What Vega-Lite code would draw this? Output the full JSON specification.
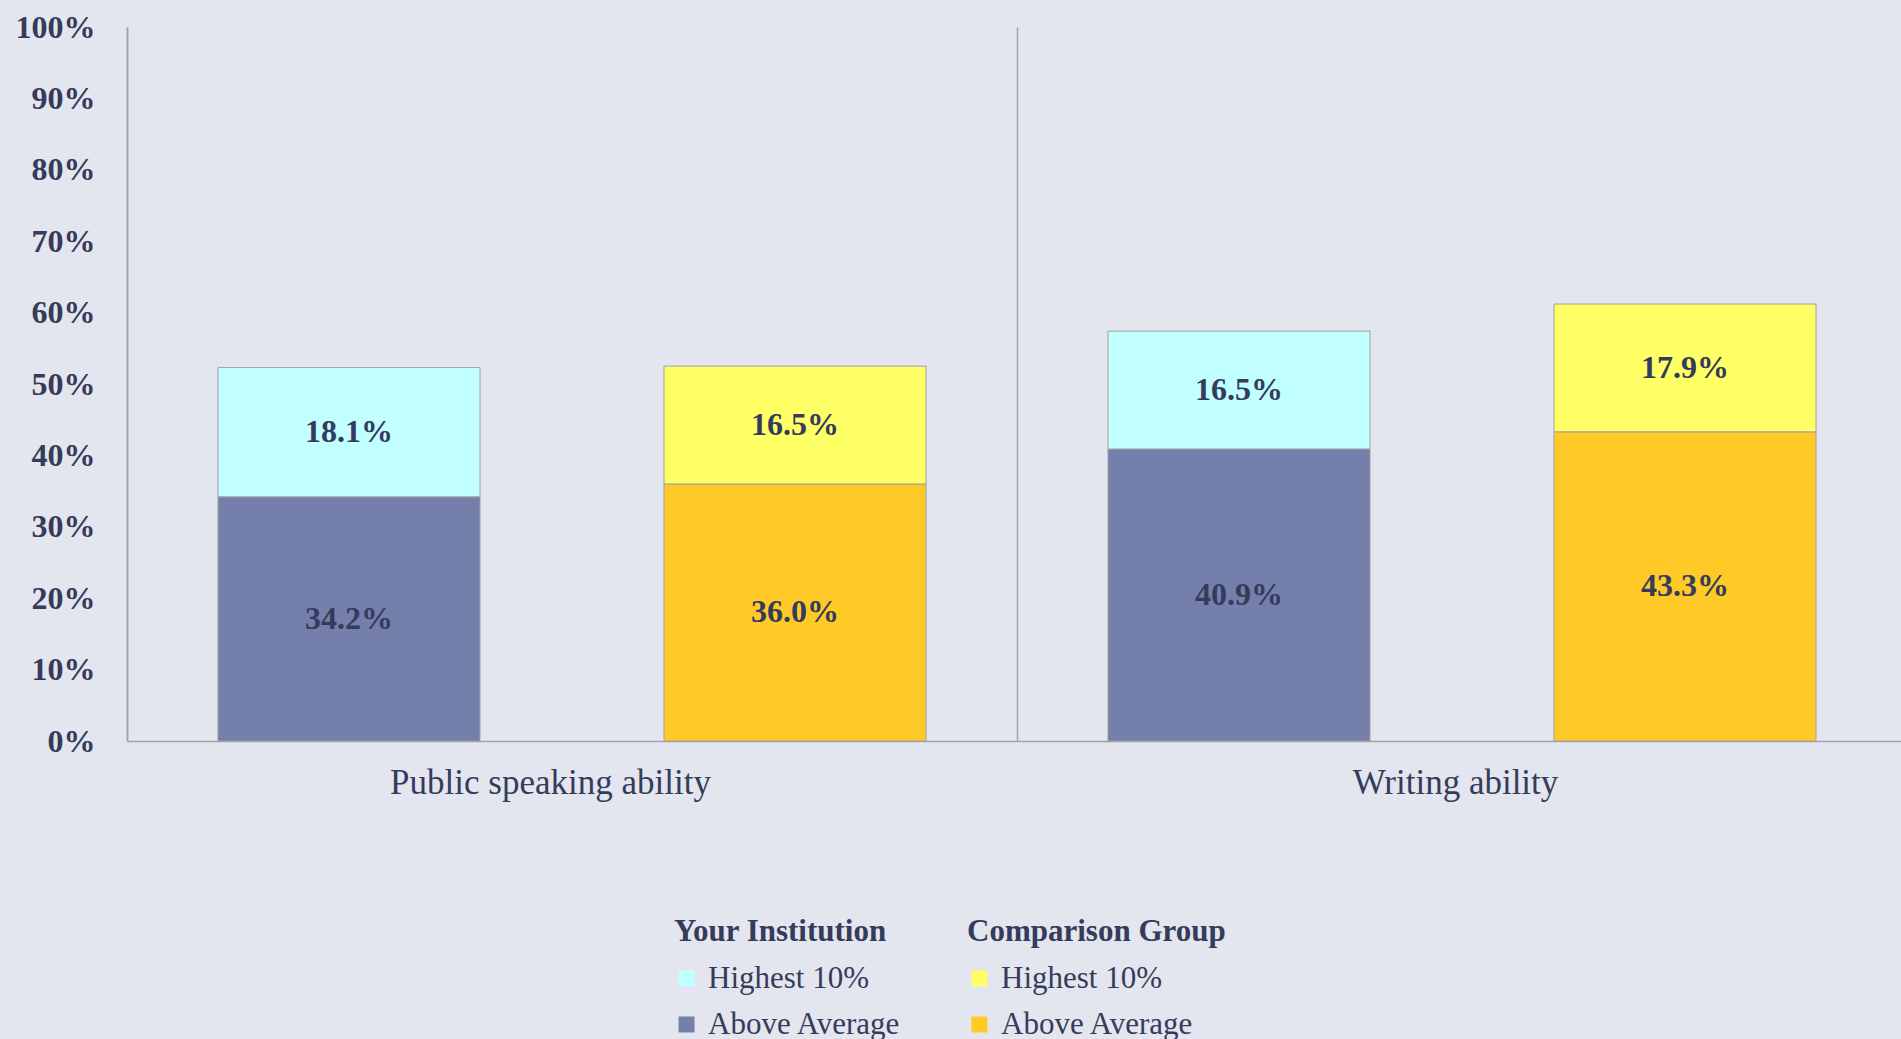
{
  "$schema": "https://vega.github.io/schema/vega-lite/v6.json",
  "width": 1774,
  "height": 714,
  "autosize": {"type": "none"},
  "padding": {"left": 127, "top": 27, "right": 0, "bottom": 298},
  "background": "#E3E6EE",
  "config": {
    "view": {"stroke": null},
    "font": "Liberation Serif",
    "axisX": {
      "labelFontSize": 35,
      "labelColor": "#353B5B",
      "labelPadding": 24,
      "labelAngle": 0,
      "labelLimit": 800,
      "ticks": false,
      "domainColor": "#A3A3A3",
      "domainWidth": 1.5,
      "grid": true,
      "gridColor": "#A3A3A3",
      "gridWidth": 1.5,
      "gridOpacity": 1,
      "tickBand": "extent"
    },
    "axisY": {
      "labelFontSize": 32,
      "labelFontWeight": "bold",
      "labelColor": "#353B5B",
      "labelPadding": 32,
      "ticks": false,
      "grid": false,
      "domainColor": "#A3A3A3",
      "domainWidth": 1.5,
      "tickCount": 10
    },
    "legend": {
      "titleFontSize": 31,
      "titleFontWeight": "bold",
      "titleColor": "#353B5B",
      "labelFontSize": 31,
      "labelColor": "#353B5B",
      "symbolType": "square",
      "symbolSize": 256,
      "symbolStrokeWidth": 0,
      "symbolOffset": -3,
      "rowPadding": 14,
      "titlePadding": 15,
      "labelOffset": 6,
      "labelLimit": 400,
      "titleLimit": 500,
      "direction": "vertical"
    }
  },
  "data": {
    "values": [
      {"ability": "Public speaking ability", "group": "Your Institution", "segment": "Above Average", "value": 0.342},
      {"ability": "Public speaking ability", "group": "Your Institution", "segment": "Highest 10%", "value": 0.181},
      {"ability": "Public speaking ability", "group": "Comparison Group", "segment": "Above Average", "value": 0.360},
      {"ability": "Public speaking ability", "group": "Comparison Group", "segment": "Highest 10%", "value": 0.165},
      {"ability": "Writing ability", "group": "Your Institution", "segment": "Above Average", "value": 0.409},
      {"ability": "Writing ability", "group": "Your Institution", "segment": "Highest 10%", "value": 0.165},
      {"ability": "Writing ability", "group": "Comparison Group", "segment": "Above Average", "value": 0.433},
      {"ability": "Writing ability", "group": "Comparison Group", "segment": "Highest 10%", "value": 0.179}
    ]
  },
  "encoding": {
    "x": {
      "field": "ability",
      "type": "nominal",
      "sort": ["Public speaking ability", "Writing ability"],
      "scale": {"paddingInner": 0, "paddingOuter": 0, "range": [0, 1780]},
      "axis": {
        "title": null,
        "labelOffset": {"condition": {"test": "datum.value === 'Public speaking ability'", "value": -22}, "value": -7}
      }
    },
    "xOffset": {
      "field": "group",
      "type": "nominal",
      "sort": ["Your Institution", "Comparison Group"],
      "scale": {"paddingInner": 0.4126, "paddingOuter": 0.204}
    }
  },
  "layer": [
    {
      "transform": [{"filter": "datum.group === 'Your Institution'"}],
      "mark": {"type": "bar", "stroke": "#A0A0A0", "strokeWidth": 1},
      "encoding": {
        "y": {"field": "value", "type": "quantitative", "stack": "zero", "scale": {"domain": [0, 1]}, "axis": {"format": "%", "title": null}},
        "color": {
          "field": "segment",
          "type": "nominal",
          "scale": {"domain": ["Highest 10%", "Above Average"], "range": ["#C2FFFF", "#7480AB"]},
          "legend": {"title": "Your Institution", "orient": "none", "legendX": 547, "legendY": 890}
        },
        "order": {"field": "segment", "sort": "ascending"}
      }
    },
    {
      "transform": [{"filter": "datum.group === 'Comparison Group'"}],
      "mark": {"type": "bar", "stroke": "#A0A0A0", "strokeWidth": 1},
      "encoding": {
        "y": {"field": "value", "type": "quantitative", "stack": "zero", "axis": {"format": "%", "title": null}},
        "color": {
          "field": "segment",
          "type": "nominal",
          "scale": {"domain": ["Highest 10%", "Above Average"], "range": ["#FFFF66", "#FFCA28"]},
          "legend": {"title": "Comparison Group", "orient": "none", "legendX": 840, "legendY": 890}
        },
        "order": {"field": "segment", "sort": "ascending"}
      }
    },
    {
      "transform": [
        {"stack": "value", "groupby": ["ability", "group"], "sort": [{"field": "segment", "order": "ascending"}], "as": ["y0", "y1"]},
        {"calculate": "(datum.y0 + datum.y1) / 2", "as": "mid"}
      ],
      "mark": {"type": "text", "fontSize": 32, "fontWeight": "bold", "color": "#353B5B", "align": "center", "baseline": "middle"},
      "encoding": {
        "y": {"field": "mid", "type": "quantitative", "stack": null, "axis": {"format": "%", "title": null}},
        "text": {"field": "value", "type": "quantitative", "format": ".1%"}
      }
    }
  ],
  "resolve": {"scale": {"color": "independent"}}
}
